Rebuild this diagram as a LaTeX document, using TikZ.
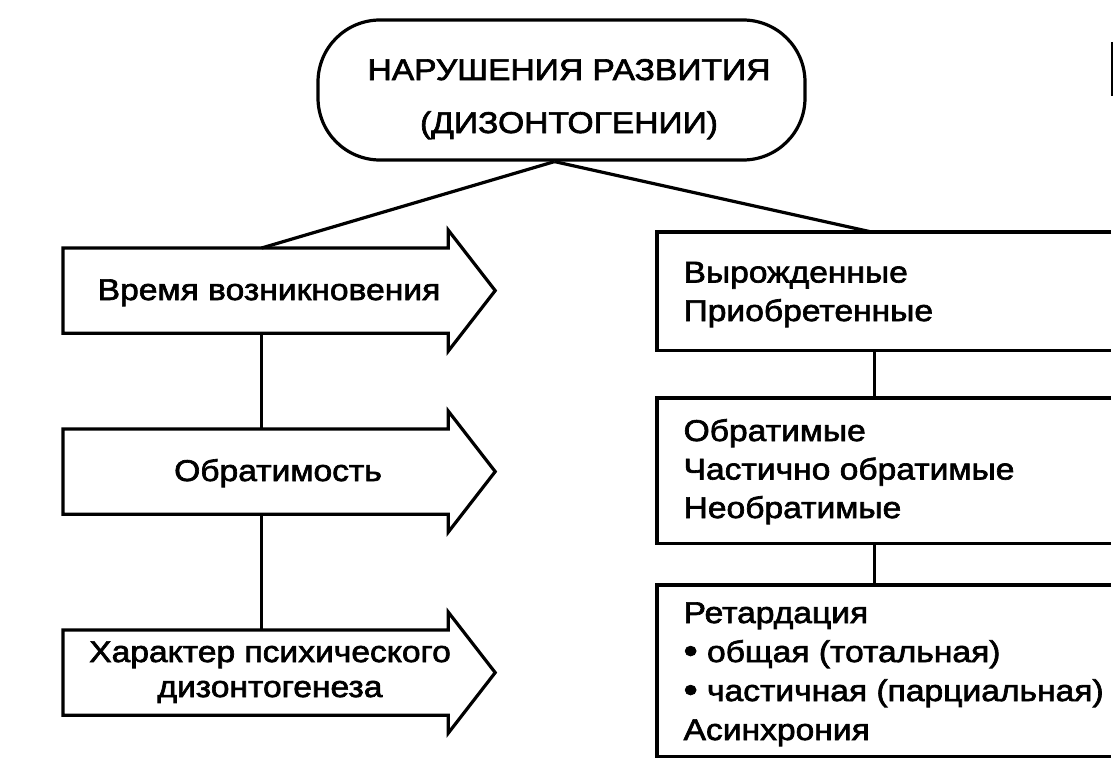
\documentclass[tikz,border=0pt]{standalone}
\usepackage{fontspec}
\setmainfont{Liberation Sans}[FakeStretch=1.12,FakeBold=2.2]
\usetikzlibrary{calc}
\newcommand{\bigbul}{{\fontsize{36}{39}\selectfont\raisebox{-1pt}{•}}}
\begin{document}
\begin{tikzpicture}[x=1pt,y=-1pt,line width=3.2pt,line join=miter,
  txt/.style={font=\fontsize{30}{38.5}\selectfont,inner sep=0pt,align=left},
  hid/.style={inner sep=0pt,draw=none},
  body/.style={hid,minimum width=382pt,minimum height=82pt,anchor=north west}]
\useasboundingbox (0,0) rectangle (1114,784);

% top stadium
\node[draw,rounded corners=62pt,minimum width=487pt,minimum height=140pt,inner sep=0pt] (top) at (561.5,90) {};
\node[txt,align=center,anchor=base,font=\fontsize{30}{53}\selectfont] (toptxt) at (569,133) {НАРУШЕНИЯ РАЗВИТИЯ\\(ДИЗОНТОГЕНИИ)};

% left arrows
\foreach \n/\y in {a1/248,a2/429,a3/630}{
  \node[body] (\n) at (63,\y) {};
  \draw (\n.south west) -- (\n.north west) -- (\n.north east) -- ++(0,-18)
        -- ($(\n.east)+(47,0)$) -- ($(\n.south east)+(0,18)$) -- (\n.south east) -- cycle;
}
\node[txt,anchor=base] (t1) at (269,300) {Время возникновения};
\node[txt,anchor=base] (t2) at (278,481) {Обратимость};
\node[txt,anchor=base,align=center,font=\fontsize{30}{35}\selectfont] (t3) at (270,697) {Характер психического\\дизонтогенеза};

% right boxes (open on the right)
\node[hid,minimum width=451pt,minimum height=115pt,anchor=north west] (r1) at (657,232) {};
\node[hid,minimum width=451pt,minimum height=142pt,anchor=north west] (r2) at (657,398) {};
\node[hid,minimum width=451pt,minimum height=168pt,anchor=north west] (r3) at (657,585) {};
\foreach \n in {r1,r2,r3}{
  \draw (\n.north east) -- (\n.north west) -- (\n.south west) -- (\n.south east);
}
\node[txt,anchor=base west] (s1) at (682,321) {Вырожденные\\Приобретенные};
\node[txt,anchor=base west] (s2) at (682,518) {Обратимые\\Частично обратимые\\Необратимые};
\node[txt,anchor=base west,font=\fontsize{30}{39}\selectfont] (s3) at (682,740) {Ретардация\\\bigbul\ общая (тотальная)\\\bigbul\ частичная (парциальная)\\Асинхрония};

% connectors
\draw ([xshift=-7pt]top.south) -- ([xshift=6pt]a1.north);
\draw ([xshift=-7pt]top.south) -- ([xshift=-12.5pt]r1.north);
\draw ([xshift=6pt]a1.south) -- ([xshift=6pt]a2.north);
\draw ([xshift=6pt]a2.south) -- ([xshift=6pt]a3.north);
\draw ([xshift=-9.5pt]r1.south) -- ([xshift=-9.5pt]r2.north);
\draw ([xshift=-9.5pt]r2.south) -- ([xshift=-9.5pt]r3.north);

% scan fragment at the top right edge
\coordinate (e1) at (1112,42);
\coordinate (e2) at (1112,96);
\draw[line width=2.2pt] (e1) -- (e2);
\end{tikzpicture}
\end{document}
